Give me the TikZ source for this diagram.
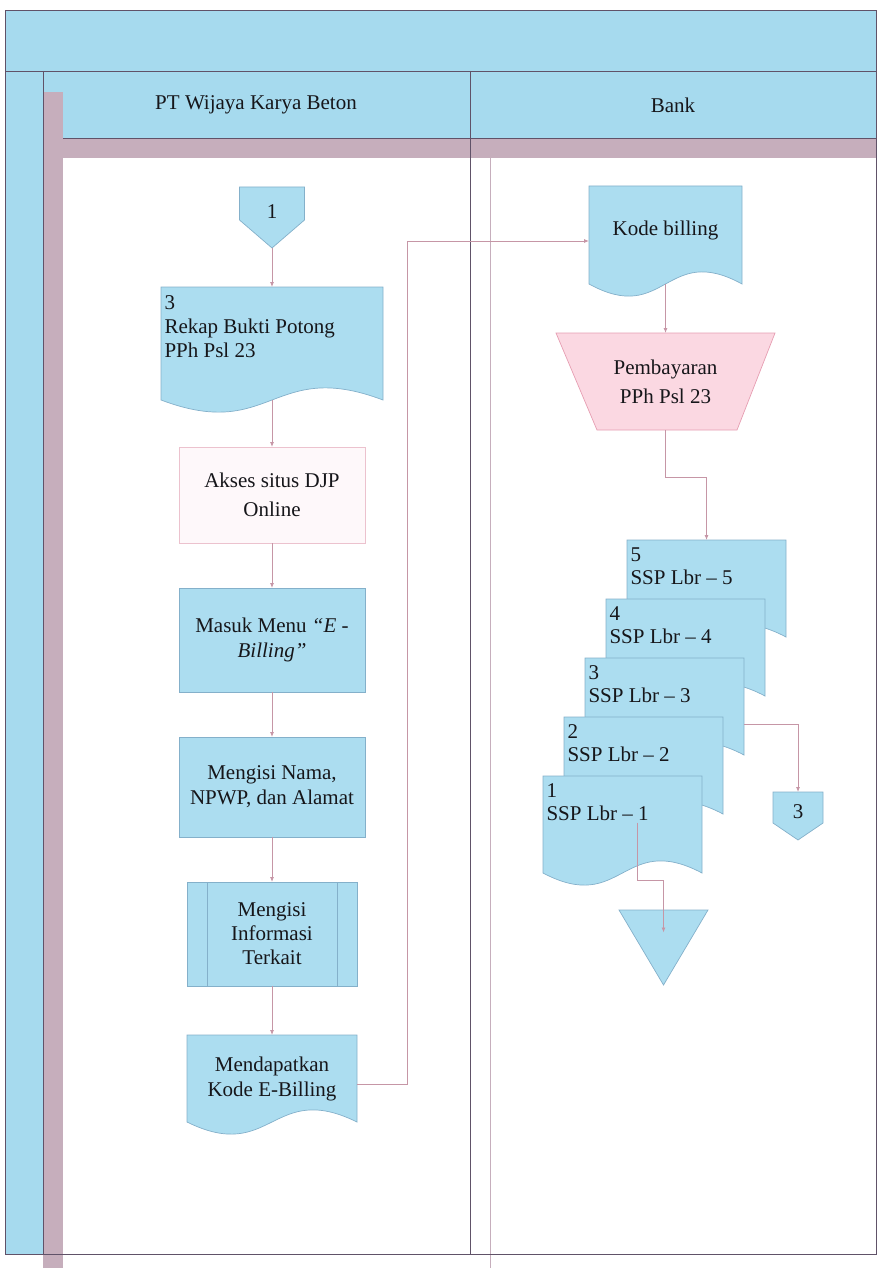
\documentclass[tikz,border=0pt]{standalone}
\usepackage{fontspec}
\setmainfont{Liberation Serif}
\usetikzlibrary{arrows.meta,calc}
\pgfdeclarelayer{lanes}
\pgfdeclarelayer{shapes}
\pgfsetlayers{lanes,shapes,main}

\definecolor{lanefill}{RGB}{166,218,238}
\definecolor{laneline}{RGB}{96,82,104}
\definecolor{shadowc}{RGB}{198,174,188}
\definecolor{docfill}{RGB}{172,221,240}
\definecolor{docline}{RGB}{132,176,202}
\definecolor{manfill}{RGB}{251,216,226}
\definecolor{manline}{RGB}{230,158,178}
\definecolor{webfill}{RGB}{254,248,250}
\definecolor{webline}{RGB}{236,194,206}
\definecolor{flowc}{RGB}{198,150,166}
\definecolor{txt}{RGB}{22,22,26}

% document outline with a wavy bottom, taken from the node anchors
\newcommand{\docpath}[1]{%
  \begin{pgfonlayer}{shapes}
  \path[docshape] (#1.north west) -- (#1.north east) -- (#1.south east)
    .. controls ($(#1.south)+(0,-42)$) and ($(#1.south)+(0,42)$) .. (#1.south west) -- cycle;
  \end{pgfonlayer}}
% off-page connector, #2 = depth of the square part
\newcommand{\offpath}[2]{%
  \begin{pgfonlayer}{shapes}
  \path[docshape] (#1.north west) -- (#1.north east) -- ($(#1.north east)+(0,#2)$)
    -- (#1.south) -- ($(#1.north west)+(0,#2)$) -- cycle;
  \end{pgfonlayer}}

\begin{document}
\begin{tikzpicture}[x=1pt,y=-1pt,
    font=\fontsize{21}{25}\selectfont, text=txt,
    box/.style={draw=none, inner sep=3pt, outer sep=0pt, align=center},
    docshape/.style={fill=docfill, draw=docline, line width=0.7pt},
    flow/.style={draw=flowc, line width=0.8pt, -{Latex[length=5pt,width=4pt]}},
    laneln/.style={draw=laneline, line width=0.9pt}]
\useasboundingbox (0,0) rectangle (882,1268);

% pool and lanes
\begin{pgfonlayer}{lanes}
  \fill[lanefill] (5,10) rectangle (876,138);
  \fill[lanefill] (5,71) rectangle (43,1254);
  \fill[shadowc] (43,92) rectangle (63,1268);
  \fill[shadowc] (63,138) rectangle (876,158);
  \draw[shadowc, line width=0.8pt] (490,158) -- (490,1268);
  \draw[laneln] (5,10) rectangle (876,1254);
  \draw[laneln] (5,71) -- (876,71);
  \draw[laneln] (43,71) -- (43,1254);
  \draw[laneln] (63,138) -- (876,138);
  \draw[laneln] (470,71) -- (470,1254);
\end{pgfonlayer}
\node (lanewika) at (256,105) {PT Wijaya Karya Beton};
\node (lanebank) at (673,105) {Bank};

% PT Wijaya Karya Beton
\node[box, minimum width=65pt, minimum height=61pt, label={[yshift=6pt]center:1}] (off1) at (272,217.5) {};
\offpath{off1}{33}

\node[box, minimum width=222pt, minimum height=113pt,
      label={[anchor=north west, align=left, yshift=-5pt, font=\fontsize{21}{24}\selectfont]north west:3\\Rekap Bukti Potong\\PPh Psl 23}] (rekap) at (272,343.5) {};
\docpath{rekap}

\node[box, minimum width=186pt, minimum height=96pt, draw=webline, fill=webfill, line width=0.7pt,
      font=\fontsize{21}{29}\selectfont] (akses) at (272,495) {Akses situs DJP\\Online};

\node[box, minimum width=186pt, minimum height=104pt, docshape] (menu) at (272,640)
      {Masuk Menu \textit{“E -}\\\textit{Billing”}};

\node[box, minimum width=186pt, minimum height=100pt, docshape] (nama) at (272,787)
      {Mengisi Nama,\\NPWP, dan Alamat};

\node[box, minimum width=170pt, minimum height=104pt, docshape, font=\fontsize{21}{24}\selectfont] (info) at (272,934)
      {Mengisi\\Informasi\\Terkait};
\draw[docline, line width=0.7pt] ($(info.north west)+(20,0)$) -- ($(info.south west)+(20,0)$);
\draw[docline, line width=0.7pt] ($(info.north east)+(-20,0)$) -- ($(info.south east)+(-20,0)$);

\node[box, minimum width=170pt, minimum height=87pt] (dapat) at (272,1078.5) {Mendapatkan\\Kode E-Billing};
\docpath{dapat}

% Bank
\node[box, minimum width=153pt, minimum height=98pt, label={[yshift=5pt]center:Kode billing}] (kode) at (665.5,235) {};
\docpath{kode}

\node[box, minimum width=219pt, minimum height=97pt, font=\fontsize{21}{29}\selectfont] (bayar) at (665.5,381.5)
      {Pembayaran\\PPh Psl 23};
\begin{pgfonlayer}{shapes}
  \path[fill=manfill, draw=manline, line width=0.7pt] (bayar.north west) -- (bayar.north east)
    -- ($(bayar.south east)+(-38,0)$) -- ($(bayar.south west)+(41,0)$) -- cycle;
\end{pgfonlayer}

\foreach \i in {5,4,3,2,1}{
  \pgfmathsetmacro\sx{627-21*(5-\i)+79.5}
  \pgfmathsetmacro\sy{540+59*(5-\i)+48.5}
  \node[box, minimum width=159pt, minimum height=97pt,
        label={[anchor=north west, align=left, yshift=-4pt, font=\fontsize{21}{23}\selectfont]north west:\i\\SSP Lbr – \i}]
        (ssp\i) at (\sx,\sy) {};
  \docpath{ssp\i}
}

\node[box, minimum width=50pt, minimum height=48pt, label={[yshift=4pt]center:3}] (off3) at (798,816) {};
\offpath{off3}{31}

\node[box, minimum width=89pt, minimum height=75pt] (store) at (663.5,947.5) {};
\begin{pgfonlayer}{shapes}
  \path[docshape] (store.north west) -- (store.north east) -- (store.south) -- cycle;
\end{pgfonlayer}

% connectors
\draw[flow] (off1.south) -- (rekap.north);
\draw[flow] (rekap.south) -- (akses.north);
\draw[flow] (akses.south) -- (menu.north);
\draw[flow] (menu.south) -- (nama.north);
\draw[flow] (nama.south) -- (info.north);
\draw[flow] (info.south) -- (dapat.north);
\draw[flow] ($(dapat.east)+(0,6)$) -- ++(50,0) |- ($(kode.west)+(0,6)$);
\draw[flow] (kode.south) -- (bayar.north);
\draw[flow] (bayar.south) -- ++(0,47) -| (ssp5.north);
\draw[flow] ($(ssp3.east)+(0,18)$) -| (off3.north);
\draw[flow] ($(ssp1.center)+(15,-2)$) -- ++(0,58) -| ($(store.center)+(0,-15)$);
\end{tikzpicture}
\end{document}
